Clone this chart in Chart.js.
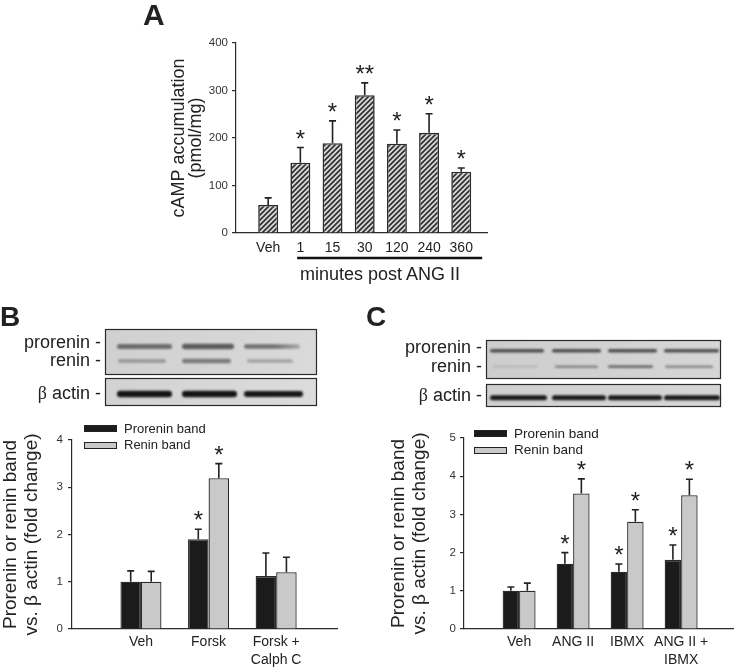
<!DOCTYPE html>
<html><head><meta charset="utf-8">
<script src="https://cdn.jsdelivr.net/npm/chart.js@4.4.1/dist/chart.umd.min.js"></script>
<style>
html,body{margin:0;padding:0;background:#fff}
body{width:735px;height:669px;position:relative;overflow:hidden;font-family:"Liberation Sans",Arial,sans-serif;color:#222}
canvas{position:absolute}
.t{position:absolute;white-space:nowrap;line-height:1}
.sym{font-family:"Liberation Serif","DejaVu Serif",serif}
.lbox{position:absolute;box-sizing:border-box;border:1px solid #222}
</style></head><body>
<canvas id="blots" width="735" height="669" style="left:0;top:0"></canvas>
<canvas id="chartA" width="345" height="260" style="left:150px;top:30px"></canvas>
<canvas id="chartB" width="345" height="254" style="left:0;top:415px"></canvas>
<canvas id="chartC" width="365" height="254" style="left:370px;top:415px"></canvas>

<div class="t" style="left:143px;top:0px;font-size:30px;font-weight:bold">A</div>
<div class="t" style="left:0px;top:303px;font-size:28px;font-weight:bold">B</div>
<div class="t" style="left:366px;top:303px;font-size:28px;font-weight:bold">C</div>

<div class="t" id="groupLabel" style="left:280px;top:265px;width:200px;text-align:center;font-size:18px"></div>

<div class="t" style="left:0;width:101px;text-align:right;top:333px;font-size:18px">prorenin -</div>
<div class="t" style="left:0;width:101px;text-align:right;top:351px;font-size:18px">renin -</div>
<div class="t" style="left:0;width:101px;text-align:right;top:384px;font-size:18px"><span class="sym">β</span> actin -</div>

<div class="t" style="left:380px;width:102px;text-align:right;top:338px;font-size:18px">prorenin -</div>
<div class="t" style="left:380px;width:102px;text-align:right;top:357px;font-size:18px">renin -</div>
<div class="t" style="left:380px;width:102px;text-align:right;top:386px;font-size:18px"><span class="sym">β</span> actin -</div>

<div id="legendB"></div>
<div id="legendC"></div>

<script>
// ---------- data ----------
const aCategories = ['Veh', '1', '15', '30', '120', '240', '360'];
const aValues = [59, 148, 189, 290, 188, 211, 129];
const aErrors = [15, 32, 47, 26, 29, 40, 8];
const aStars = ['', '*', '*', '**', '*', '*', '*'];
const aGroupLabel = 'minutes post ANG II';
const aYTitle = ['cAMP accumulation', '(pmol/mg)'];

const seriesNames = ['Prorenin band', 'Renin band'];
const foldTitle = ['Prorenin or renin band', 'vs. β actin (fold change)'];

const bCategories = ['Veh', 'Forsk', ['Forsk +', 'Calph C']];
const bProrenin = [1.00, 1.90, 1.12];
const bProreninErr = [0.23, 0.21, 0.49];
const bProreninStars = ['', '*', ''];
const bRenin = [1.00, 3.19, 1.20];
const bReninErr = [0.22, 0.31, 0.32];
const bReninStars = ['', '*', ''];

const cCategories = ['Veh', 'ANG II', 'IBMX', ['ANG II +', 'IBMX']];
const cProrenin = [1.00, 1.71, 1.50, 1.81];
const cProreninErr = [0.10, 0.29, 0.20, 0.39];
const cProreninStars = ['', '*', '*', '*'];
const cRenin = [1.00, 3.55, 2.81, 3.50];
const cReninErr = [0.20, 0.38, 0.31, 0.42];
const cReninStars = ['', '*', '*', '*'];

// ---------- styling ----------
const FONT = '"Liberation Sans", Arial, sans-serif';
const INK = '#222';
const AXIS = '#2b2b2b';
const BLACK_BAR = '#1b1b1b';
const GRAY_BAR = '#c9c9c9';
Chart.defaults.font.family = FONT;
Chart.defaults.color = INK;

document.getElementById('groupLabel').textContent = aGroupLabel;

function makeLegend(id, left, tops, fontSize, colors) {
  const host = document.getElementById(id);
  seriesNames.forEach((name, i) => {
    const box = document.createElement('div');
    box.className = 'lbox';
    box.style.cssText += `left:${left}px;top:${tops[i].box}px;width:33px;height:7px;background:${colors[i]}`;
    host.appendChild(box);
    const t = document.createElement('div');
    t.className = 't';
    t.style.cssText = `left:${left + 40}px;top:${tops[i].text}px;font-size:${fontSize}px`;
    t.textContent = name;
    host.appendChild(t);
  });
}
makeLegend('legendB', 84, [{box: 425, text: 422}, {box: 441.5, text: 438}], 13, [BLACK_BAR, GRAY_BAR]);
makeLegend('legendC', 474, [{box: 430, text: 427}, {box: 447, text: 442.5}], 13.5, [BLACK_BAR, GRAY_BAR]);

// ---------- hatch pattern ----------
function hatchPattern(ctx) {
  const c = document.createElement('canvas');
  c.width = 5; c.height = 5;
  const g = c.getContext('2d');
  g.fillStyle = '#dadada';
  g.fillRect(0, 0, 5, 5);
  g.strokeStyle = '#303030';
  g.lineWidth = 1.7;
  g.beginPath();
  g.moveTo(-1, 6); g.lineTo(6, -1);
  g.moveTo(-1, 1); g.lineTo(1, -1);
  g.moveTo(4, 6); g.lineTo(6, 4);
  g.stroke();
  return ctx.createPattern(c, 'repeat');
}

// ---------- error bars + significance ----------
const errorBarPlugin = {
  id: 'errorBars',
  afterDatasetsDraw(chart) {
    const ctx = chart.ctx;
    const ys = chart.scales.y;
    chart.data.datasets.forEach((ds, di) => {
      const meta = chart.getDatasetMeta(di);
      meta.data.forEach((bar, i) => {
        const v = ds.data[i].y;
        const top = ys.getPixelForValue(v + ds.errors[i]);
        ctx.save();
        ctx.strokeStyle = INK;
        ctx.lineWidth = 1.6;
        ctx.beginPath();
        ctx.moveTo(bar.x, bar.y);
        ctx.lineTo(bar.x, top);
        ctx.moveTo(bar.x - 3.5, top);
        ctx.lineTo(bar.x + 3.5, top);
        ctx.stroke();
        const s = ds.stars[i];
        if (s) {
          ctx.fillStyle = INK;
          ctx.font = '24px ' + FONT;
          ctx.textAlign = 'center';
          ctx.textBaseline = 'alphabetic';
          ctx.fillText(s, bar.x, top - 1);
        }
        ctx.restore();
      });
    });
  }
};

// underline under the ANG II time points (panel A)
const underlinePlugin = {
  id: 'underline',
  afterDraw(chart) {
    const xs = chart.scales.x;
    const ctx = chart.ctx;
    const y = chart.chartArea.bottom + 25;
    ctx.save();
    ctx.strokeStyle = '#111';
    ctx.lineWidth = 2.5;
    ctx.beginPath();
    ctx.moveTo(xs.getPixelForValue(1.9), y);
    ctx.lineTo(xs.getPixelForValue(7.65), y);
    ctx.stroke();
    ctx.restore();
  }
};

function makeChart(id, cfg) {
  const labels = cfg.labels;
  return new Chart(document.getElementById(id), {
    type: 'bar',
    data: {
      datasets: cfg.series.map(s => ({
        label: s.label,
        data: s.values.map((v, i) => ({x: i + 1, y: v})),
        errors: s.errors,
        stars: s.stars,
        backgroundColor: s.color,
        borderColor: AXIS,
        borderWidth: cfg.barBorder,
        borderSkipped: 'start',
        categoryPercentage: cfg.catPct,
        barPercentage: 1
      }))
    },
    options: {
      responsive: false,
      animation: false,
      devicePixelRatio: 1,
      layout: {padding: cfg.padding},
      plugins: {legend: {display: false}, tooltip: {enabled: false}},
      scales: {
        x: {
          type: 'linear',
          min: cfg.xMin,
          max: cfg.xMax,
          offset: false,
          grid: {display: false, drawTicks: false},
          border: {display: true, color: AXIS, width: 1.2},
          afterBuildTicks: s => { s.ticks = labels.map((_, i) => ({value: i + 1})); },
          afterFit: s => { s.height = cfg.xHeight; },
          ticks: {
            autoSkip: false, maxRotation: 0, minRotation: 0,
            padding: cfg.xTickPad, color: INK,
            font: {size: 14, lineHeight: cfg.xTickLH},
            callback: (v, i) => labels[i]
          }
        },
        y: {
          min: 0,
          max: cfg.yMax,
          ticks: {stepSize: cfg.yStep, padding: cfg.yTickPad, color: '#333', font: {size: 11.5}},
          grid: {display: true, drawOnChartArea: false, drawTicks: true, tickLength: 4, color: AXIS, lineWidth: 1.2},
          border: {display: true, color: AXIS, width: 1.2},
          title: {
            display: true, text: cfg.yTitle, color: INK,
            font: {size: cfg.yTitleSize, lineHeight: cfg.yTitleLH},
            padding: {top: cfg.yTitlePad, bottom: 0}
          },
          afterFit: s => { s.width = cfg.yWidth; }
        }
      }
    },
    plugins: cfg.plugins
  });
}

const ctxA = document.getElementById('chartA').getContext('2d');
makeChart('chartA', {
  labels: aCategories,
  series: [{label: 'cAMP', values: aValues, errors: aErrors, stars: aStars, color: hatchPattern(ctxA)}],
  catPct: 0.62, xMin: 0, xMax: 7.8, barBorder: 1.6,
  padding: {left: 0, top: 13, right: 8, bottom: 0},
  xHeight: 57, xTickPad: 7, xTickLH: 1.2,
  yMax: 400, yStep: 100, yTickPad: 4, yWidth: 86,
  yTitle: aYTitle, yTitleSize: 18, yTitleLH: 0.95, yTitlePad: 20,
  plugins: [errorBarPlugin, underlinePlugin]
});

makeChart('chartB', {
  labels: bCategories,
  series: [
    {label: seriesNames[0], values: bProrenin, errors: bProreninErr, stars: bProreninStars, color: BLACK_BAR},
    {label: seriesNames[1], values: bRenin, errors: bReninErr, stars: bReninStars, color: GRAY_BAR}
  ],
  catPct: 0.607, xMin: -0.02, xMax: 3.9, barBorder: 1.3,
  padding: {left: 0, top: 25, right: 8, bottom: 0},
  xHeight: 40, xTickPad: 4, xTickLH: 1.3,
  yMax: 4, yStep: 1, yTickPad: 5, yWidth: 72,
  yTitle: foldTitle, yTitleSize: 19, yTitleLH: 1.1, yTitlePad: 0,
  plugins: [errorBarPlugin]
});

makeChart('chartC', {
  labels: cCategories,
  series: [
    {label: seriesNames[0], values: cProrenin, errors: cProreninErr, stars: cProreninStars, color: BLACK_BAR},
    {label: seriesNames[1], values: cRenin, errors: cReninErr, stars: cReninStars, color: GRAY_BAR}
  ],
  catPct: 0.61, xMin: -0.02, xMax: 4.96, barBorder: 1.3,
  padding: {left: 0, top: 23, right: 2, bottom: 0},
  xHeight: 40, xTickPad: 4, xTickLH: 1.3,
  yMax: 5, yStep: 1, yTickPad: 4, yWidth: 94,
  yTitle: foldTitle, yTitleSize: 19, yTitleLH: 1.1, yTitlePad: 18,
  plugins: [errorBarPlugin]
});

// ---------- western blot images (illustrative drawing) ----------
(function drawBlots() {
  const ctx = document.getElementById('blots').getContext('2d');
  function box(x, y, w, h, bg) {
    const g = ctx.createLinearGradient(x, y, x + w, y + h);
    g.addColorStop(0, bg[0]);
    g.addColorStop(1, bg[1]);
    ctx.fillStyle = g;
    ctx.fillRect(x, y, w, h);
    ctx.strokeStyle = '#2a2a2a';
    ctx.lineWidth = 1.2;
    ctx.strokeRect(x + 0.5, y + 0.5, w - 1, h - 1);
  }
  function band(x1, x2, yc, h, color, blur, fadeRight) {
    ctx.save();
    ctx.filter = `blur(${blur}px)`;
    if (fadeRight) {
      const g = ctx.createLinearGradient(x1, 0, x2, 0);
      g.addColorStop(0, color);
      g.addColorStop(0.55, color);
      g.addColorStop(1, fadeRight);
      ctx.fillStyle = g;
    } else {
      ctx.fillStyle = color;
    }
    ctx.beginPath();
    ctx.roundRect(x1, yc - h / 2, x2 - x1, h, h / 2);
    ctx.fill();
    ctx.restore();
  }
  // Panel B
  box(105, 329, 212, 46, ['#d0d0d0', '#dadada']);
  band(117, 172, 346.5, 5, '#6c6c6c', 1.2);
  band(182, 234, 346.5, 5.5, '#5c5c5c', 1.2);
  band(244, 300, 346.5, 4.5, '#707070', 1.2, '#a8a8a8');
  band(118, 166, 361, 4, '#9c9c9c', 1.2);
  band(182, 231, 361, 4.5, '#7a7a7a', 1.2);
  band(247, 293, 361, 3.5, '#a2a2a2', 1.2);
  box(105, 378, 212, 28, ['#d2d2d2', '#dcdcdc']);
  band(117, 172, 394, 6.5, '#141414', 1);
  band(182, 237, 394, 6.5, '#141414', 1);
  band(244, 303, 394, 6, '#181818', 1);
  // Panel C
  box(486, 340, 235, 39, ['#cdcdcd', '#d6d6d6']);
  band(490, 544, 350.7, 3.6, '#4e4e4e', 0.8);
  band(552, 601, 350.7, 3.6, '#4e4e4e', 0.8);
  band(608, 657, 350.7, 3.6, '#4e4e4e', 0.8);
  band(664, 719, 350.7, 3.6, '#505050', 0.8);
  band(493, 538, 366.7, 2.4, '#b9b9b9', 0.8);
  band(555, 598, 366.7, 2.6, '#858585', 0.8);
  band(608, 653, 366.7, 2.8, '#6c6c6c', 0.8);
  band(665, 713, 366.7, 2.6, '#888888', 0.8);
  box(486, 384, 235, 23, ['#cfcfcf', '#d6d6d6']);
  band(490, 547, 397.7, 5, '#1a1a1a', 0.9);
  band(552, 606, 397.7, 5, '#1a1a1a', 0.9);
  band(608, 662, 397.7, 5, '#1a1a1a', 0.9);
  band(664, 720, 397.7, 5, '#1c1c1c', 0.9);
})();
</script>
</body></html>
